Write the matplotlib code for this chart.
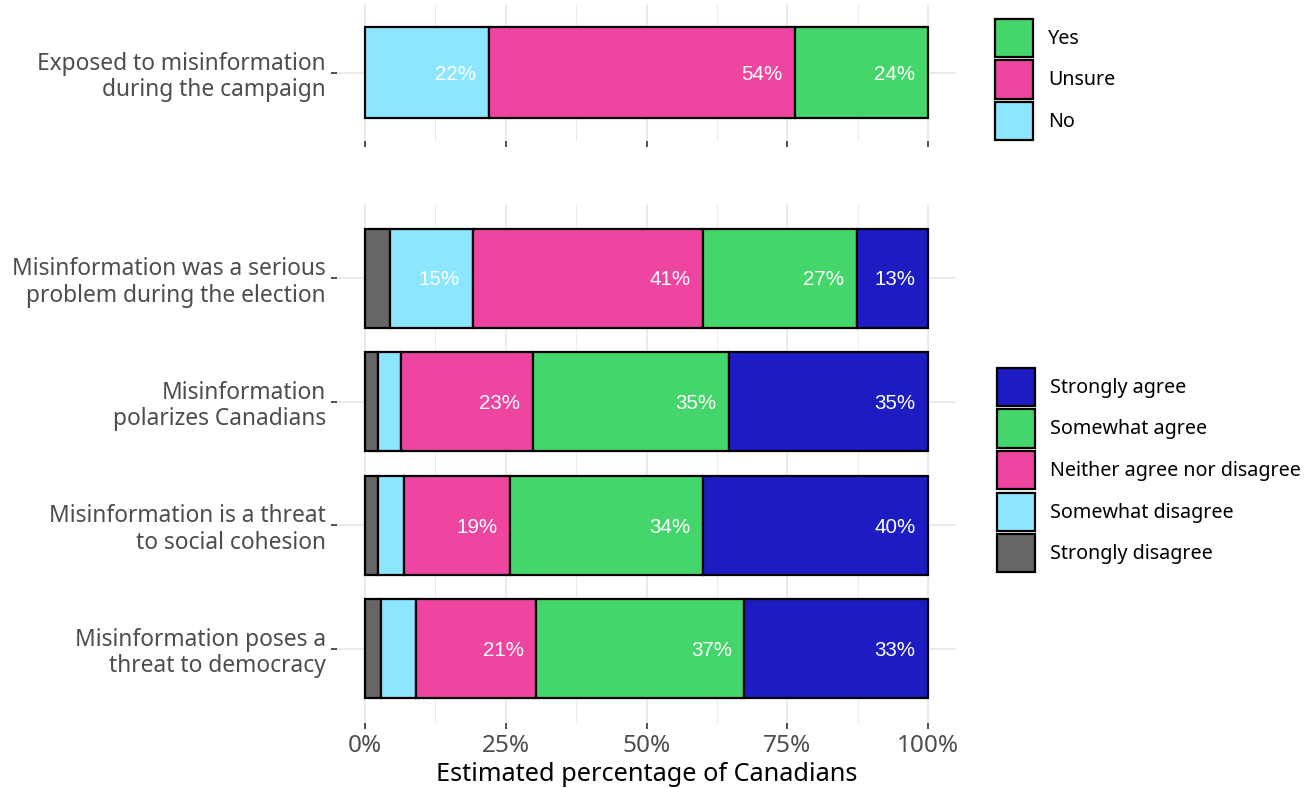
import numpy as np
import matplotlib.pyplot as plt
from matplotlib.patches import Patch

# Top panel data
top_question = "Exposed to misinformation\nduring the campaign"
top_levels = ["No", "Unsure", "Yes"]
top_values = [22.0, 54.4, 23.6]

# Bottom panel data (top to bottom)
questions = [
    "Misinformation was a serious\nproblem during the election",
    "Misinformation\npolarizes Canadians",
    "Misinformation is a threat\nto social cohesion",
    "Misinformation poses a\nthreat to democracy",
]
levels = ["Strongly disagree", "Somewhat disagree", "Neither agree nor disagree",
          "Somewhat agree", "Strongly agree"]
strongly_disagree = [4.4, 2.3, 2.3, 2.8]
somewhat_disagree = [14.7, 4.1, 4.6, 6.3]
neither = [41.0, 23.4, 18.8, 21.3]
somewhat_agree = [27.3, 34.9, 34.3, 37.0]
strongly_agree = [12.6, 35.3, 40.0, 32.6]

colors = {
    "Strongly disagree": "#666666",
    "Somewhat disagree": "#8de6ff",
    "Neither agree nor disagree": "#ee45a0",
    "Somewhat agree": "#45d66b",
    "Strongly agree": "#1c1cc2",
    "No": "#8de6ff",
    "Unsure": "#ee45a0",
    "Yes": "#45d66b",
}

xticks = [0, 25, 50, 75, 100]
xticklabels = ["0%", "25%", "50%", "75%", "100%"]

plt.rcParams["font.family"] = ["Noto Sans", "DejaVu Sans"]
label_font = "Liberation Sans"

fig = plt.figure(figsize=(13.15, 7.88), dpi=100)
W, H = 1315, 788
left, right = 337 / W, 956 / W
ax1 = fig.add_axes([left, 1 - 141 / H, right - left, 137 / H])
ax2 = fig.add_axes([left, 1 - 723 / H, right - left, 519 / H])


def style_axis(ax):
    ax.set_xlim(-5, 105)
    ax.set_xticks(xticks)
    ax.set_xticks([12.5, 37.5, 62.5, 87.5], minor=True)
    for s in ax.spines.values():
        s.set_visible(False)
    ax.grid(True, which="major", color="#ebebeb", linewidth=1.4, zorder=0)
    ax.grid(True, which="minor", axis="x", color="#ebebeb", linewidth=0.7, zorder=0)
    ax.tick_params(axis="both", which="major", length=4, width=1.2, color="#333333",
                   labelcolor="#4d4d4d", pad=4)
    ax.tick_params(axis="x", labelsize=17.5)
    ax.tick_params(axis="x", which="minor", length=0)
    ax.set_axisbelow(True)


def draw_bar(ax, y, vals, names, height):
    start = 0
    for v, n in zip(vals, names):
        ax.barh(y, v, left=start, height=height, color=colors[n],
                edgecolor="black", linewidth=1.6, zorder=3)
        if v >= 10:
            ax.annotate(f"{round(v):.0f}%", (start + v, y), xytext=(-9, -1.3),
                        textcoords="offset points", ha="right", va="center",
                        color="white", fontsize=14.8, family=label_font, zorder=4)
        start += v


# top panel
style_axis(ax1)
draw_bar(ax1, 0, top_values, top_levels, 0.8)
ax1.set_ylim(-0.6, 0.6)
ax1.set_yticks([0])
ax1.set_yticklabels([top_question], fontsize=16.4, linespacing=1.14)
ax1.set_xticklabels([])

# bottom panel
style_axis(ax2)
ypos = np.arange(len(questions))
series = [strongly_disagree, somewhat_disagree, neither, somewhat_agree, strongly_agree]
for i, y in enumerate(ypos):
    draw_bar(ax2, y, [s[i] for s in series], levels, 0.8)
ax2.set_ylim(len(questions) - 0.4, -0.6)
ax2.set_yticks(ypos)
ax2.set_yticklabels(questions, fontsize=16.4, linespacing=1.14)
ax2.set_xticklabels(xticklabels)
ax2.set_xlabel("Estimated percentage of Canadians", fontsize=18.2, color="black", labelpad=3)

# legends
leg_kw = dict(loc="upper left", frameon=False, fontsize=14.2, handlelength=1.93,
              handleheight=2.59, labelspacing=0.18, handletextpad=0.76, borderaxespad=0)

h1 = [Patch(facecolor=colors[n], edgecolor="black", linewidth=1.6, label=n)
      for n in ["Yes", "Unsure", "No"]]
fig.legend(handles=h1, bbox_to_anchor=(987 / W, 1 - 11 / H), **leg_kw)

h2 = [Patch(facecolor=colors[n], edgecolor="black", linewidth=1.6, label=n)
      for n in levels[::-1]]
fig.legend(handles=h2, bbox_to_anchor=(989 / W, 1 - 360 / H), **leg_kw)

fig.savefig("out.png", dpi=100)
